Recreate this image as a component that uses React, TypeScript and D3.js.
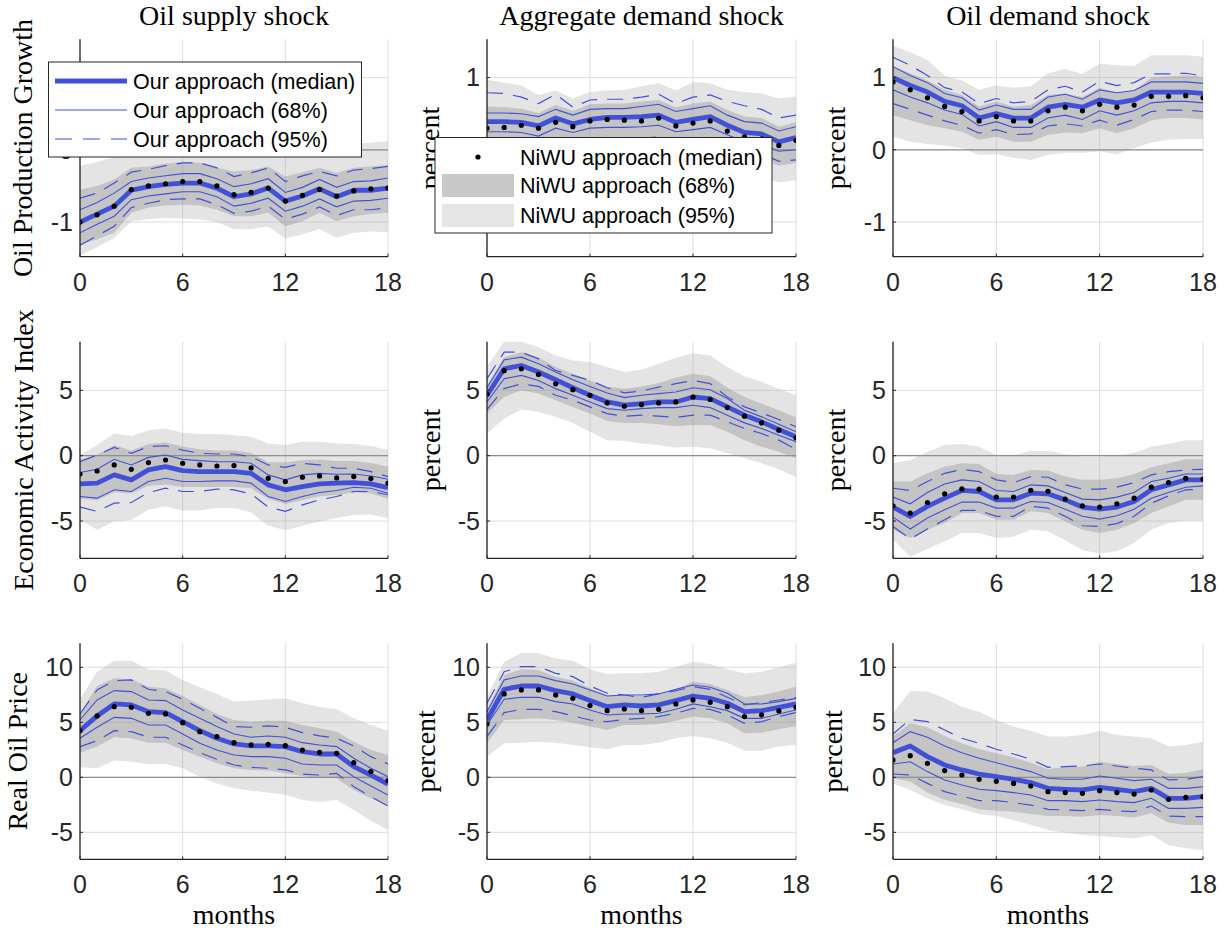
import React from "react";
import * as d3 from "d3";

// ---------- data ----------
const months = d3.range(0, 19);
const xTicks = [0, 6, 12, 18];
const shockTitles = ["Oil supply shock", "Aggregate demand shock", "Oil demand shock"];
const rowLabels = ["Oil Production Growth", "Economic Activity Index", "Real Oil Price"];
const rowYTicks = [[-1, 0, 1], [-5, 0, 5], [-5, 0, 5, 10]];
const rowYDomains = [[-1.48, 1.53], [-7.85, 8.72], [-7.45, 12.18]];

// Row 1: oil production growth
const med11 = [-1.0,-0.89,-0.78,-0.56,-0.51,-0.48,-0.46,-0.46,-0.53,-0.65,-0.61,-0.53,-0.71,-0.64,-0.54,-0.65,-0.56,-0.56,-0.53];
const dot11 = [-1.0,-0.9,-0.78,-0.55,-0.5,-0.47,-0.44,-0.44,-0.5,-0.62,-0.59,-0.53,-0.71,-0.63,-0.55,-0.64,-0.57,-0.54,-0.53];
const u68_11 = [-0.83,-0.73,-0.6,-0.44,-0.39,-0.36,-0.33,-0.33,-0.4,-0.51,-0.47,-0.4,-0.59,-0.52,-0.41,-0.52,-0.44,-0.43,-0.39];
const l68_11 = [-1.15,-1.03,-0.92,-0.69,-0.64,-0.61,-0.58,-0.58,-0.65,-0.78,-0.74,-0.67,-0.85,-0.78,-0.68,-0.79,-0.71,-0.7,-0.67];
const u95_11 = [-0.67,-0.6,-0.46,-0.31,-0.27,-0.22,-0.18,-0.18,-0.25,-0.37,-0.32,-0.25,-0.44,-0.36,-0.3,-0.36,-0.28,-0.26,-0.23];
const l95_11 = [-1.32,-1.19,-1.06,-0.8,-0.74,-0.69,-0.68,-0.68,-0.76,-0.88,-0.85,-0.78,-0.96,-0.89,-0.79,-0.91,-0.83,-0.83,-0.8];
const bu68_11 = [-0.55,-0.5,-0.41,-0.25,-0.23,-0.19,-0.17,-0.18,-0.25,-0.3,-0.28,-0.23,-0.37,-0.31,-0.25,-0.32,-0.25,-0.23,-0.21];
const bl68_11 = [-1.31,-1.24,-1.15,-0.87,-0.8,-0.77,-0.76,-0.77,-0.83,-0.92,-0.92,-0.87,-1.06,-0.99,-0.87,-0.99,-0.92,-0.89,-0.87];
const bu95_11 = [-0.22,-0.17,-0.1,-0.02,0.02,0.05,0.07,0.07,0.05,0.0,0.02,0.05,-0.02,0.02,0.06,0.04,0.08,0.1,0.12];
const bl95_11 = [-1.46,-1.35,-1.22,-0.99,-0.96,-0.94,-0.95,-0.96,-1.0,-1.1,-1.1,-1.06,-1.23,-1.17,-1.1,-1.22,-1.15,-1.13,-1.14];

const med12 = [0.39,0.39,0.38,0.33,0.44,0.36,0.42,0.45,0.45,0.46,0.48,0.38,0.42,0.46,0.34,0.24,0.22,0.11,0.17];
const dot12 = [0.3,0.31,0.34,0.3,0.38,0.32,0.4,0.42,0.41,0.4,0.44,0.33,0.37,0.4,0.26,0.18,0.15,0.06,0.13];
const u68_12 = [0.51,0.51,0.5,0.46,0.56,0.48,0.56,0.57,0.57,0.6,0.63,0.53,0.57,0.61,0.48,0.39,0.37,0.26,0.32];
const l68_12 = [0.25,0.25,0.24,0.19,0.3,0.24,0.3,0.31,0.31,0.32,0.34,0.25,0.28,0.31,0.21,0.11,0.08,-0.02,0.0];
const u95_12 = [0.79,0.78,0.73,0.64,0.77,0.59,0.69,0.7,0.7,0.73,0.77,0.64,0.73,0.76,0.67,0.61,0.56,0.44,0.48];
const l95_12 = [0.12,0.12,0.1,0.05,0.14,0.08,0.14,0.15,0.15,0.16,0.18,0.1,0.13,0.16,0.06,-0.03,-0.05,-0.16,-0.14];
const bu68_12 = [0.6,0.59,0.57,0.51,0.62,0.54,0.63,0.64,0.64,0.67,0.69,0.59,0.64,0.67,0.55,0.46,0.44,0.32,0.38];
const bl68_12 = [0.0,0.01,0.04,0.07,0.12,0.08,0.15,0.18,0.17,0.13,0.17,0.07,0.12,0.17,-0.02,-0.1,-0.14,-0.22,-0.18];
const bu95_12 = [0.97,0.93,0.89,0.76,0.82,0.71,0.8,0.82,0.83,0.88,0.92,0.82,0.94,0.92,0.83,0.8,0.78,0.71,0.74];
const bl95_12 = [-0.3,-0.28,-0.25,-0.22,-0.15,-0.2,-0.12,-0.1,-0.1,-0.12,-0.1,-0.18,-0.14,-0.12,-0.25,-0.35,-0.38,-0.45,-0.42];

const med13 = [1.0,0.89,0.8,0.67,0.61,0.44,0.5,0.44,0.44,0.59,0.63,0.59,0.69,0.65,0.69,0.8,0.8,0.8,0.78];
const dot13 = [0.94,0.83,0.72,0.6,0.53,0.4,0.46,0.4,0.4,0.54,0.59,0.54,0.63,0.59,0.62,0.74,0.74,0.75,0.72];
const u68_13 = [1.15,1.03,0.93,0.78,0.72,0.55,0.62,0.56,0.56,0.73,0.77,0.7,0.83,0.79,0.82,0.94,0.94,0.94,0.92];
const l68_13 = [0.83,0.73,0.65,0.55,0.49,0.33,0.39,0.31,0.31,0.44,0.48,0.42,0.54,0.48,0.54,0.65,0.67,0.67,0.65];
const u95_13 = [1.28,1.17,1.03,0.86,0.8,0.64,0.71,0.65,0.67,0.83,0.88,0.8,0.95,0.89,0.93,1.05,1.05,1.06,1.02];
const l95_13 = [0.64,0.56,0.48,0.4,0.34,0.23,0.28,0.21,0.22,0.33,0.36,0.33,0.41,0.34,0.42,0.53,0.55,0.55,0.53];
const bu68_13 = [1.16,1.06,0.96,0.83,0.76,0.6,0.67,0.6,0.62,0.76,0.78,0.73,0.86,0.79,0.82,1.0,1.02,1.03,1.01];
const bl68_13 = [0.48,0.41,0.34,0.3,0.25,0.14,0.18,0.11,0.11,0.21,0.24,0.23,0.3,0.23,0.3,0.41,0.44,0.44,0.42];
const bu95_13 = [1.44,1.35,1.24,1.03,0.96,0.83,0.89,0.86,0.88,1.06,1.12,1.05,1.19,1.17,1.16,1.31,1.31,1.31,1.29];
const bl95_13 = [0.18,0.11,0.08,0.06,0.02,-0.07,-0.06,-0.11,-0.14,-0.07,-0.04,-0.04,-0.02,-0.06,0.02,0.1,0.14,0.15,0.15];

// Row 2: economic activity index
const med21 = [-2.16,-2.1,-1.47,-1.85,-1.09,-0.84,-1.14,-1.22,-1.22,-1.22,-1.35,-2.23,-2.61,-2.36,-2.16,-2.1,-2.06,-2.16,-2.44];
const dot21 = [-1.4,-1.17,-0.71,-1.04,-0.53,-0.33,-0.58,-0.71,-0.79,-0.76,-0.94,-1.73,-1.98,-1.65,-1.55,-1.7,-1.6,-1.75,-2.1];
const u68_21 = [-1.29,-1.04,-0.28,-0.71,-0.13,0.05,-0.28,-0.38,-0.46,-0.46,-0.58,-1.47,-1.85,-1.47,-1.35,-1.42,-1.4,-1.55,-1.8];
const l68_21 = [-3.12,-3.25,-2.61,-2.74,-1.98,-1.73,-1.98,-1.98,-1.93,-1.93,-2.1,-3.12,-3.5,-3.12,-2.82,-2.66,-2.41,-2.49,-2.87];
const u95_21 = [-0.46,0.05,0.63,0.18,0.69,0.76,0.43,0.18,0.13,0.13,-0.08,-0.71,-0.89,-0.58,-0.71,-0.96,-0.96,-1.22,-1.6];
const l95_21 = [-3.93,-4.26,-3.63,-3.58,-2.82,-2.49,-2.74,-2.74,-2.56,-2.61,-2.92,-3.93,-4.26,-3.76,-3.38,-3.12,-2.74,-2.74,-2.99];
const bu68_21 = [-0.3,0.1,0.8,0.4,0.9,1.0,0.7,0.5,0.4,0.4,0.2,-0.5,-0.5,-0.35,-0.3,-0.4,-0.4,-0.55,-0.85];
const bl68_21 = [-3.3,-3.4,-2.8,-2.9,-2.3,-2.2,-2.4,-2.4,-2.4,-2.4,-2.5,-3.3,-3.7,-3.4,-3.1,-3.0,-2.8,-2.9,-3.3];
const bu95_21 = [0.05,0.81,1.7,1.5,1.95,2.08,1.75,1.65,1.65,1.57,1.45,0.94,0.81,1.07,1.07,0.94,0.9,0.74,0.43];
const bl95_21 = [-4.9,-5.66,-5.03,-4.9,-4.14,-3.88,-4.19,-4.19,-4.01,-4.01,-4.34,-5.36,-5.71,-5.36,-5.03,-4.77,-4.52,-4.52,-4.77];

const med22 = [4.62,6.65,6.9,6.4,5.81,5.2,4.62,4.11,3.86,3.98,4.11,4.11,4.49,4.37,3.73,3.1,2.59,2.0,1.45];
const dot22 = [4.7,6.5,6.65,6.22,5.5,5.05,4.62,4.04,3.78,3.9,4.04,4.11,4.49,4.3,3.68,3.02,2.51,1.95,1.37];
const u68_22 = [5.2,7.33,7.54,7.03,6.4,5.81,5.3,4.8,4.44,4.62,4.75,4.87,5.2,5.05,4.37,3.48,2.97,2.41,1.83];
const l68_22 = [4.11,5.89,6.14,5.76,5.13,4.62,4.11,3.6,3.48,3.6,3.68,3.68,3.86,3.68,3.1,2.51,2.08,1.57,1.07];
const u95_22 = [5.89,7.92,7.92,7.41,6.52,6.14,5.76,5.2,4.8,4.95,5.25,5.51,5.76,5.51,4.49,3.73,3.27,2.77,2.21];
const l95_22 = [3.53,5.13,5.5,5.3,4.62,4.24,3.73,3.22,3.02,3.1,3.02,2.92,3.1,3.1,2.59,2.08,1.7,1.19,0.48];
const bu68_22 = [5.38,7.54,7.92,7.54,6.78,6.27,5.76,5.3,5.13,5.3,5.56,5.96,6.27,6.07,5.2,4.49,3.98,3.48,2.92];
const bl68_22 = [3.22,4.49,5.0,4.75,4.24,3.73,3.22,2.66,2.51,2.51,2.41,2.26,2.34,2.34,1.83,1.19,0.69,0.3,-0.2];
const bu95_22 = [6.78,8.76,8.76,8.3,7.66,7.28,7.16,6.78,6.4,6.57,7.03,7.49,7.84,7.66,6.78,6.07,5.63,5.13,4.62];
const bl95_22 = [1.7,2.84,3.53,3.35,2.97,2.51,1.83,1.19,1.14,0.94,0.81,0.63,0.69,0.56,0.18,-0.2,-0.58,-1.04,-1.65];

const med23 = [-3.93,-4.64,-3.88,-3.25,-2.66,-2.74,-3.38,-3.38,-2.87,-2.92,-3.38,-3.93,-4.09,-3.93,-3.5,-2.61,-2.23,-1.85,-1.85];
const dot23 = [-3.83,-4.39,-3.58,-2.92,-2.54,-2.56,-3.17,-3.17,-2.66,-2.72,-3.32,-3.83,-3.93,-3.68,-3.25,-2.41,-2.06,-1.73,-1.8];
const u68_23 = [-3.17,-3.68,-2.82,-2.16,-1.85,-1.98,-2.66,-2.74,-2.23,-2.31,-2.82,-3.32,-3.38,-3.17,-2.82,-1.98,-1.73,-1.4,-1.4];
const l68_23 = [-4.7,-5.61,-4.77,-4.14,-3.55,-3.55,-4.01,-4.01,-3.5,-3.58,-4.09,-4.64,-4.85,-4.59,-4.09,-3.25,-2.82,-2.41,-2.31];
const u95_23 = [-2.49,-2.66,-1.98,-1.35,-1.04,-1.22,-1.85,-2.06,-1.6,-1.65,-2.23,-2.56,-2.56,-2.41,-2.06,-1.47,-1.22,-1.09,-1.04];
const l95_23 = [-5.41,-6.37,-5.61,-4.9,-4.19,-4.19,-4.64,-4.64,-3.88,-4.01,-4.64,-5.36,-5.41,-5.2,-4.64,-3.63,-3.07,-2.61,-2.56];
const bu68_23 = [-1.98,-1.98,-1.35,-0.84,-0.58,-0.63,-1.4,-1.47,-1.09,-1.14,-1.6,-1.85,-1.85,-1.73,-1.4,-0.89,-0.58,-0.28,-0.28];
const bl68_23 = [-5.66,-6.29,-5.66,-5.15,-4.39,-4.39,-4.9,-4.9,-4.26,-4.39,-5.03,-5.66,-5.91,-5.66,-5.15,-4.39,-3.88,-3.38,-3.38];
const bu95_23 = [-0.58,-0.33,0.3,0.81,0.89,0.69,0.05,0.05,0.38,0.38,0.13,-0.08,-0.08,0.05,0.23,0.69,0.89,1.19,1.19];
const bl95_23 = [-6.42,-7.74,-7.13,-6.55,-5.91,-5.91,-6.29,-6.2,-5.66,-5.79,-6.47,-7.23,-7.49,-7.31,-6.68,-5.66,-5.15,-4.95,-4.95];

// Row 3: real oil price
const med31 = [4.24,5.58,6.67,6.58,5.97,5.88,5.06,4.24,3.55,3.03,2.85,2.85,2.79,2.33,2.12,2.12,0.97,0.21,-0.61];
const dot31 = [4.24,5.58,6.42,6.36,5.82,5.76,4.97,4.15,3.7,3.15,2.94,3.0,2.88,2.48,2.27,2.18,1.33,0.52,-0.3];
const u68_31 = [5.21,7.03,7.88,7.79,7.03,6.97,6.12,5.36,4.61,3.94,3.64,3.76,3.64,3.15,2.94,2.79,1.73,0.82,0.06];
const l68_31 = [3.55,4.55,5.45,5.36,4.76,4.76,3.94,3.09,2.48,2.03,1.88,1.88,1.73,1.21,1.12,1.12,0.06,-0.79,-1.61];
const u95_31 = [5.76,7.94,8.79,8.85,8.0,7.79,7.09,6.27,5.45,4.61,4.55,4.67,4.55,4.06,3.76,3.55,2.85,1.88,1.21];
const l95_31 = [2.79,3.33,4.24,4.15,3.64,3.64,2.94,2.24,1.64,1.12,0.91,0.82,0.67,0.3,0.21,0.36,-0.85,-1.76,-2.61];
const bu68_31 = [5.82,8.3,9.0,8.91,8.24,8.09,7.39,6.58,5.76,5.21,5.06,5.15,5.15,4.76,4.45,4.15,3.24,2.48,2.03];
const bl68_31 = [2.24,2.79,3.64,3.55,3.15,3.15,2.48,1.88,1.27,0.82,0.67,0.61,0.36,0.12,-0.09,-0.09,-1.15,-1.91,-2.61];
const bu95_31 = [7.09,9.6,10.6,10.6,9.82,9.7,8.85,8.18,7.58,6.88,6.97,7.09,7.18,6.73,6.42,6.18,5.36,4.76,4.24];
const bl95_31 = [0.91,0.82,1.52,1.42,1.21,1.21,0.82,0.06,-0.55,-1.0,-1.21,-1.39,-1.61,-2.06,-2.21,-2.06,-2.97,-3.94,-4.79];

const med32 = [5.21,8.0,8.3,8.3,7.88,7.58,6.97,6.42,6.58,6.48,6.58,6.97,7.39,7.18,6.73,5.97,6.06,6.36,6.67];
const dot32 = [4.85,7.58,7.94,7.94,7.48,7.18,6.52,6.06,6.21,6.06,6.18,6.67,7.03,6.82,6.42,5.52,5.67,6.03,6.36];
const u68_32 = [5.97,8.85,9.21,9.21,8.79,8.48,7.94,7.39,7.48,7.48,7.58,8.0,8.39,8.18,7.64,6.67,6.67,6.88,7.18];
const l68_32 = [4.76,7.09,7.27,7.27,6.88,6.67,6.12,5.67,5.76,5.76,5.82,6.18,6.67,6.42,6.06,5.36,5.36,5.76,6.12];
const u95_32 = [6.73,9.6,10.06,10.06,9.45,9.15,8.3,7.64,7.48,7.27,7.58,7.88,8.24,8.0,7.27,6.58,6.79,7.03,7.27];
const l95_32 = [3.7,5.88,6.18,6.18,5.97,5.58,5.21,5.06,5.27,5.36,5.52,5.82,6.27,6.18,5.67,4.91,5.06,5.52,5.88];
const bu68_32 = [6.12,9.3,9.82,9.76,9.15,8.79,8.09,7.48,7.39,7.39,7.48,8.0,8.7,8.48,7.94,7.27,7.48,7.79,8.24];
const bl68_32 = [3.09,5.21,5.27,5.36,5.21,4.97,4.61,4.3,4.76,4.76,4.85,5.15,5.52,5.36,4.91,4.0,4.06,4.36,4.67];
const bu95_32 = [7.27,10.5,11.3,11.3,10.8,10.6,9.82,9.39,9.45,9.45,9.6,10.06,10.5,10.3,9.82,9.45,9.6,10.0,10.42];
const bl95_32 = [1.88,3.09,3.15,3.24,3.15,2.94,2.73,2.55,2.94,2.94,3.15,3.55,3.76,3.55,3.15,2.42,2.42,2.79,2.94];

const med33 = [2.24,2.85,1.88,1.12,0.67,0.3,0.06,-0.18,-0.48,-1.0,-1.09,-1.15,-0.91,-1.09,-1.3,-1.0,-1.91,-1.91,-1.76];
const dot33 = [1.58,1.97,1.27,0.61,0.21,-0.18,-0.36,-0.55,-0.79,-1.3,-1.39,-1.45,-1.21,-1.39,-1.52,-1.15,-2.0,-1.82,-1.76];
const u68_33 = [3.15,4.15,3.64,2.85,2.24,1.73,1.33,0.91,0.52,-0.09,-0.18,-0.18,0.12,-0.09,-0.3,-0.18,-1.0,-1.0,-0.85];
const l68_33 = [1.21,1.42,0.52,-0.24,-0.7,-1.09,-1.21,-1.39,-1.61,-2.12,-2.12,-2.21,-2.06,-2.21,-2.3,-1.91,-2.82,-2.82,-2.73];
const u95_33 = [3.94,5.27,5.06,4.3,3.55,3.09,2.55,2.12,1.64,0.91,0.97,1.03,1.21,1.03,0.82,0.67,-0.24,-0.18,0.06];
const l95_33 = [0.3,0.21,-0.55,-1.3,-1.7,-2.12,-2.12,-2.3,-2.52,-2.91,-2.97,-3.03,-2.91,-3.06,-3.12,-2.61,-3.52,-3.58,-3.58];
const bu68_33 = [3.7,4.91,4.55,3.76,3.09,2.55,2.18,1.82,1.33,0.73,0.97,0.97,1.42,1.21,1.03,1.12,0.3,0.42,0.73];
const bl68_33 = [-0.09,-0.39,-1.39,-2.06,-2.42,-2.91,-3.03,-3.12,-3.33,-3.52,-3.52,-3.58,-3.42,-3.52,-3.64,-3.27,-4.12,-4.33,-4.33];
const bu95_33 = [5.82,7.85,7.79,7.18,6.42,5.97,5.21,4.61,4.24,3.7,3.7,3.85,4.24,3.85,3.7,3.55,2.79,2.94,3.24];
const bl95_33 = [-0.55,-1.15,-1.91,-2.52,-2.91,-3.33,-3.52,-3.88,-4.33,-4.79,-5.03,-5.24,-5.33,-5.45,-5.55,-5.24,-6.15,-6.45,-6.6];

const panelData = [
  [
    { med: med11, dot: dot11, u68: u68_11, l68: l68_11, u95: u95_11, l95: l95_11, bu68: bu68_11, bl68: bl68_11, bu95: bu95_11, bl95: bl95_11 },
    { med: med12, dot: dot12, u68: u68_12, l68: l68_12, u95: u95_12, l95: l95_12, bu68: bu68_12, bl68: bl68_12, bu95: bu95_12, bl95: bl95_12 },
    { med: med13, dot: dot13, u68: u68_13, l68: l68_13, u95: u95_13, l95: l95_13, bu68: bu68_13, bl68: bl68_13, bu95: bu95_13, bl95: bl95_13 },
  ],
  [
    { med: med21, dot: dot21, u68: u68_21, l68: l68_21, u95: u95_21, l95: l95_21, bu68: bu68_21, bl68: bl68_21, bu95: bu95_21, bl95: bl95_21 },
    { med: med22, dot: dot22, u68: u68_22, l68: l68_22, u95: u95_22, l95: l95_22, bu68: bu68_22, bl68: bl68_22, bu95: bu95_22, bl95: bl95_22 },
    { med: med23, dot: dot23, u68: u68_23, l68: l68_23, u95: u95_23, l95: l95_23, bu68: bu68_23, bl68: bl68_23, bu95: bu95_23, bl95: bl95_23 },
  ],
  [
    { med: med31, dot: dot31, u68: u68_31, l68: l68_31, u95: u95_31, l95: l95_31, bu68: bu68_31, bl68: bl68_31, bu95: bu95_31, bl95: bl95_31 },
    { med: med32, dot: dot32, u68: u68_32, l68: l68_32, u95: u95_32, l95: l95_32, bu68: bu68_32, bl68: bl68_32, bu95: bu95_32, bl95: bl95_32 },
    { med: med33, dot: dot33, u68: u68_33, l68: l68_33, u95: u95_33, l95: l95_33, bu68: bu68_33, bl68: bl68_33, bu95: bu95_33, bl95: bl95_33 },
  ],
];

// ---------- layout ----------
const W = 1228, H = 933;
const colX = [[80, 388], [487, 796], [893, 1203]];
const rowY = [[39.3, 256.7], [341.7, 558.3], [643.3, 859.3]];
const yLabelX = [[32, 439, 845], [33, 440, 845], [27, 435, 842]];
const BLUE = "#4051d8";
const AX = "#262626";
const SANS = "'Liberation Sans', Arial, Helvetica, sans-serif";
const SERIF = "'Liberation Serif', 'Times New Roman', serif";

function Panel({ r, c }: { r: number; c: number }) {
  const d = panelData[r][c];
  const [x0, x1] = colX[c];
  const [yt, yb] = rowY[r];
  const x = d3.scaleLinear().domain([0, 18]).range([x0, x1]);
  const y = d3.scaleLinear().domain(rowYDomains[r]).range([yb, yt]);
  const band = (hi: number[], lo: number[]) =>
    d3.area<number>().x((t) => x(t)).y0((t) => y(lo[t])).y1((t) => y(hi[t]))(months) || "";
  const line = (v: number[]) => d3.line<number>().x((t) => x(t)).y((t) => y(v[t]))(months) || "";
  const clipId = `clip-${r}-${c}`;
  return (
    <g>
      <defs>
        <clipPath id={clipId}>
          <rect x={x0} y={yt} width={x1 - x0} height={yb - yt} />
        </clipPath>
      </defs>
      {/* grid */}
      {xTicks.map((t) => (
        <line key={"gx" + t} x1={x(t)} x2={x(t)} y1={yt} y2={yb} stroke="#dcdcdc" strokeWidth={1} />
      ))}
      {rowYTicks[r].map((t) => (
        <line key={"gy" + t} x1={x0} x2={x1} y1={y(t)} y2={y(t)} stroke="#dcdcdc" strokeWidth={1} />
      ))}
      <g clipPath={`url(#${clipId})`}>
        <path d={band(d.bu95, d.bl95)} fill="#aeaeae" fillOpacity={0.33} />
        <path d={band(d.bu68, d.bl68)} fill="#7a7a7a" fillOpacity={0.3} />
        <line x1={x0} x2={x1} y1={y(0)} y2={y(0)} stroke="#8f8f8f" strokeWidth={1.2} />
        <path d={line(d.u95)} fill="none" stroke={BLUE} strokeWidth={1.2} strokeDasharray="16 10" />
        <path d={line(d.l95)} fill="none" stroke={BLUE} strokeWidth={1.2} strokeDasharray="16 10" />
        <path d={line(d.u68)} fill="none" stroke={BLUE} strokeWidth={1.1} />
        <path d={line(d.l68)} fill="none" stroke={BLUE} strokeWidth={1.1} />
        <path d={line(d.med)} fill="none" stroke={BLUE} strokeWidth={4.8} strokeLinejoin="round" />
        {months.map((t) => (
          <circle key={"d" + t} cx={x(t)} cy={y(d.dot[t])} r={2.6} fill="#000" />
        ))}
      </g>
      {/* axes */}
      <line x1={x0} x2={x0} y1={yt} y2={yb} stroke={AX} strokeWidth={1.3} />
      <line x1={x0} x2={x1} y1={yb} y2={yb} stroke={AX} strokeWidth={1.3} />
      {xTicks.map((t) => (
        <g key={"xt" + t}>
          <line x1={x(t)} x2={x(t)} y1={yb} y2={yb - 3} stroke={AX} strokeWidth={1} />
          <text x={x(t)} y={yb + 34} textAnchor="middle" fontFamily={SANS} fontSize={25} fill={AX}>
            {t}
          </text>
        </g>
      ))}
      {rowYTicks[r].map((t) => (
        <g key={"yt" + t}>
          <line x1={x0} x2={x0 + 3} y1={y(t)} y2={y(t)} stroke={AX} strokeWidth={1} />
          <text x={x0 - 7} y={y(t)} dy="0.35em" textAnchor="end" fontFamily={SANS} fontSize={25} fill={AX}>
            {t}
          </text>
        </g>
      ))}
      <text
        transform={`translate(${yLabelX[r][c]},${(yt + yb) / 2}) rotate(-90)`}
        textAnchor="middle"
        fontFamily={SERIF}
        fontSize={28}
        fill="#000"
      >
        {c === 0 ? rowLabels[r] : "percent"}
      </text>
      {r === 0 && (
        <text x={(x0 + x1) / 2} y={25} textAnchor="middle" fontFamily={SERIF} fontSize={28} fill="#000">
          {shockTitles[c]}
        </text>
      )}
      {r === 2 && (
        <text x={(x0 + x1) / 2} y={924} textAnchor="middle" fontFamily={SERIF} fontSize={28} fill="#000">
          months
        </text>
      )}
    </g>
  );
}

const legendOurs = ["Our approach (median)", "Our approach (68%)", "Our approach (95%)"];
const legendNiwu = ["NiWU approach (median)", "NiWU approach (68%)", "NiWU approach (95%)"];

export default function App() {
  const panels = [];
  for (let r = 0; r < 3; r++) for (let c = 0; c < 3; c++) panels.push(<Panel key={`${r}${c}`} r={r} c={c} />);
  const l1y = [81, 110, 139];
  const l2y = [157, 185.5, 215.5];
  return (
    <svg width={W} height={H} style={{ position: "absolute", left: 0, top: 0, background: "#fff" }}>
      <rect x={0} y={0} width={W} height={H} fill="#fff" />
      {panels}
      {/* legend 1 */}
      <g>
        <rect x={48.5} y={62} width={313} height={95} fill="#fff" stroke={AX} strokeWidth={1} />
        <line x1={55} x2={127} y1={l1y[0]} y2={l1y[0]} stroke={BLUE} strokeWidth={4.8} />
        <line x1={55} x2={127} y1={l1y[1]} y2={l1y[1]} stroke={BLUE} strokeWidth={1.1} />
        <line x1={55} x2={127} y1={l1y[2]} y2={l1y[2]} stroke={BLUE} strokeWidth={1.2} strokeDasharray="17 11" />
        {legendOurs.map((s, i) => (
          <text key={s} x={133} y={l1y[i]} dy="0.36em" fontFamily={SANS} fontSize={21.5} fill="#000">
            {s}
          </text>
        ))}
      </g>
      {/* legend 2 */}
      <g>
        <rect x={435} y={137.5} width={337} height={95.5} fill="#fff" stroke={AX} strokeWidth={1} />
        <circle cx={478} cy={l2y[0]} r={2.6} fill="#000" />
        <rect x={442} y={174} width={72} height={23} fill="#c8c8c8" />
        <rect x={442} y={204} width={72} height={23} fill="#e5e5e5" />
        {legendNiwu.map((s, i) => (
          <text key={s} x={520} y={l2y[i]} dy="0.36em" fontFamily={SANS} fontSize={21.5} fill="#000">
            {s}
          </text>
        ))}
      </g>
    </svg>
  );
}
